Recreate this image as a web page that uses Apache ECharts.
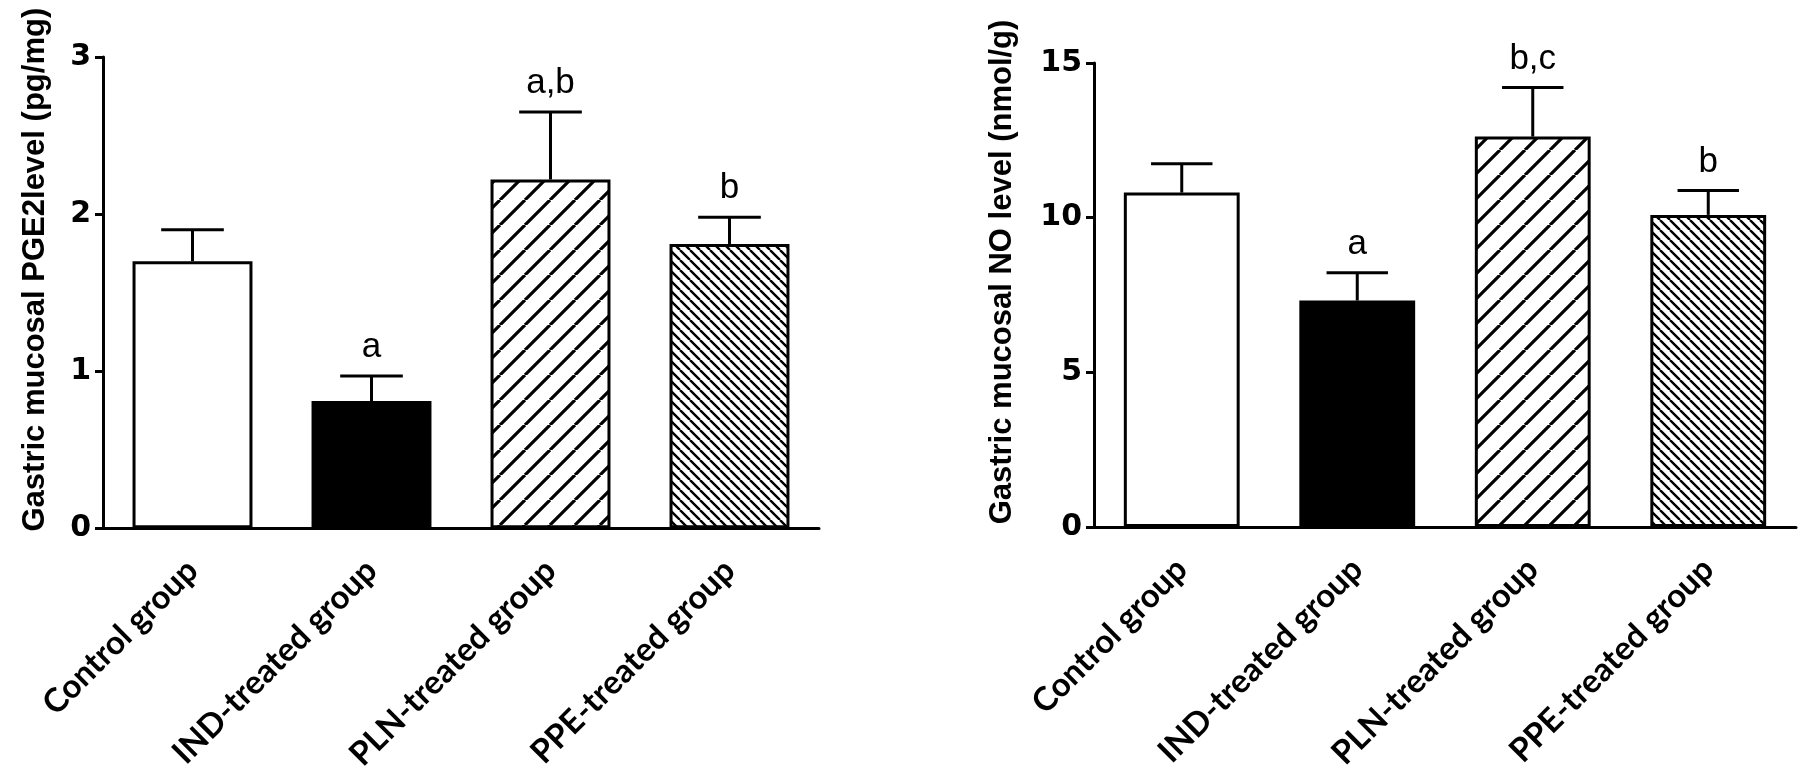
<!DOCTYPE html>
<html>
<head>
<meta charset="utf-8">
<script src="https://cdn.jsdelivr.net/npm/echarts@6/dist/echarts.min.js"></script>
<style>
html,body{margin:0;padding:0;background:#fff;}
#chart{width:1811px;height:774px;}
</style>
</head>
<body>
<div id="chart"></div>
<script>
// ---- data ----
const categories = ['Control group', 'IND-treated group', 'PLN-treated group', 'PPE-treated group'];
const pgeMean = [1.70, 0.81, 2.22, 1.81];
const pgeSem = [0.20, 0.16, 0.43, 0.17];
const pgeLetters = ['', 'a', 'a,b', 'b'];
const noMean = [10.81, 7.32, 12.62, 10.09];
const noSem = [0.93, 0.90, 1.59, 0.79];
const noLetters = ['', 'a', 'b,c', 'b'];
const pgeTicks = [0, 1, 2, 3];
const noTicks = [0, 5, 10, 15];
const pgeTitle = 'Gastric mucosal PGE2level (pg/mg)';
const noTitle = 'Gastric mucosal NO level (nmol/g)';

// ---- hatch patterns ----
function hatch(size, dir, lw) {
  const c = document.createElement('canvas');
  c.width = size; c.height = size;
  const g = c.getContext('2d');
  g.fillStyle = '#fff'; g.fillRect(0, 0, size, size);
  g.strokeStyle = '#000'; g.lineWidth = lw;
  g.beginPath();
  for (let k = -1; k <= 1; k++) {
    if (dir === '/') { g.moveTo(k * size, size); g.lineTo(k * size + size, 0); }
    else { g.moveTo(k * size, 0); g.lineTo(k * size + size, size); }
  }
  g.stroke();
  return c;
}
const fills = [
  '#ffffff',
  '#000000',
  { image: hatch(25, '/', 3.2), repeat: 'repeat' },
  { image: hatch(10, '\\', 2.4), repeat: 'repeat' }
];

const chart = echarts.init(document.getElementById('chart'), null, { renderer: 'canvas' });

function errRender(letters) {
  return function (params, api) {
    const i = api.value(0), m = api.value(1), s = api.value(2);
    const base = api.coord([i, m]);
    const top = api.coord([i, m + s]);
    const bw = api.size([1, 0])[0];
    const half = bw * 0.175;
    const st = { stroke: '#000', lineWidth: 3 };
    return {
      type: 'group',
      children: [
        { type: 'line', shape: { x1: base[0], y1: base[1], x2: top[0], y2: top[1] }, style: st },
        { type: 'line', shape: { x1: top[0] - half, y1: top[1], x2: top[0] + half, y2: top[1] }, style: st },
        { type: 'text', style: { text: letters[i], x: top[0], y: top[1] - 11, align: 'center', verticalAlign: 'bottom',
          font: '35px "Liberation Sans", Arial, sans-serif', fill: '#000' } }
      ]
    };
  };
}

function yAxis(idx, ticks, title, gap) {
  return {
    type: 'value', gridIndex: idx, min: ticks[0], max: ticks[ticks.length - 1],
    interval: ticks[1] - ticks[0],
    name: title, nameLocation: 'middle', nameGap: gap,
    nameTextStyle: { fontFamily: '"Liberation Sans", Arial, sans-serif', fontWeight: 'bold', fontSize: 31, color: '#000',
      padding: [0, 0, 0, 46] },
    axisLine: { show: true, lineStyle: { color: '#000', width: 3 } },
    axisTick: { show: true, length: 8, lineStyle: { color: '#000', width: 3 } },
    axisLabel: { margin: 12, fontFamily: '"DejaVu Sans", sans-serif', fontWeight: 'bold', fontSize: 30, color: '#000' },
    splitLine: { show: false }
  };
}
function xAxis(idx) {
  return {
    type: 'category', gridIndex: idx, data: categories,
    axisLine: { show: true, lineStyle: { color: '#000', width: 3 } },
    axisTick: { show: false },
    axisLabel: { rotate: 45, margin: 37, interval: 0, fontFamily: 'Lato, "Open Sans", sans-serif', fontWeight: 'bold', fontSize: 33, color: '#000' }
  };
}
function barData(vals) {
  return vals.map((v, i) => ({ value: v, itemStyle: { color: fills[i] } }));
}

chart.setOption({
  animation: false,
  backgroundColor: '#fff',
  grid: [
    { left: 103, top: 57, width: 716, height: 475 },
    { left: 1094, top: 63, width: 702, height: 464 }
  ],
  xAxis: [xAxis(0), xAxis(1)],
  yAxis: [yAxis(0, pgeTicks, pgeTitle, 52), yAxis(1, noTicks, noTitle, 76)],
  series: [
    { type: 'bar', xAxisIndex: 0, yAxisIndex: 0, barWidth: '67%', data: barData(pgeMean),
      itemStyle: { borderColor: '#000', borderWidth: 3 } },
    { type: 'bar', xAxisIndex: 1, yAxisIndex: 1, barWidth: '66%', data: barData(noMean),
      itemStyle: { borderColor: '#000', borderWidth: 3 } },
    { type: 'custom', xAxisIndex: 0, yAxisIndex: 0, z: 5, renderItem: errRender(pgeLetters),
      data: pgeMean.map((m, i) => [i, m, pgeSem[i]]) },
    { type: 'custom', xAxisIndex: 1, yAxisIndex: 1, z: 5, renderItem: errRender(noLetters),
      data: noMean.map((m, i) => [i, m, noSem[i]]) }
  ]
});
</script>
</body>
</html>
